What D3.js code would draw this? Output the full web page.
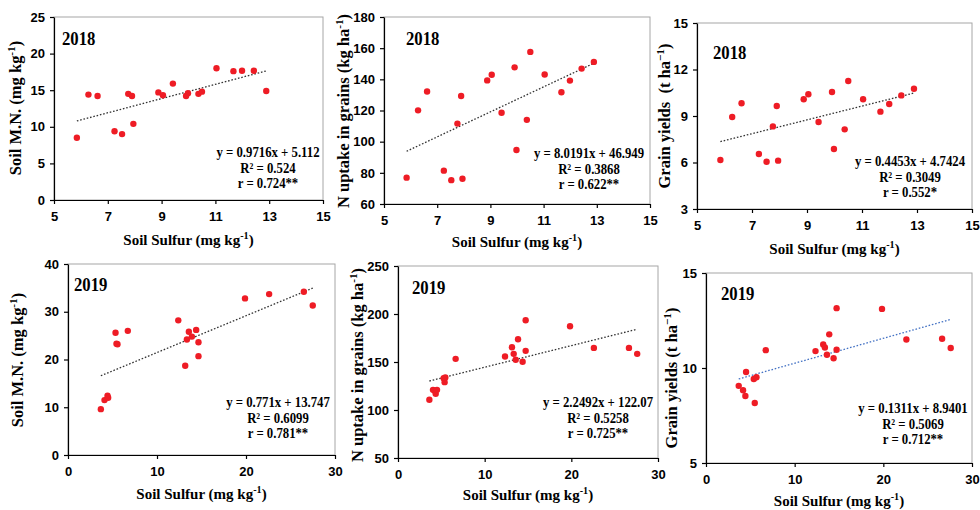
<!DOCTYPE html>
<html>
<head>
<meta charset="utf-8">
<script src="https://cdn.jsdelivr.net/npm/d3@7"></script>
<style>
  body { margin: 0; background: #fff; }
  svg { font-family: "Liberation Serif", "Times New Roman", serif; font-weight: bold; }
  .tick text { font-size: 13px; fill: #000; }
</style>
</head>
<body>
<svg id="chart" width="980" height="510"></svg>
<script>
// 2018 data (same soil sulfur values for the three panels)
const sulfur2018 = [5.85, 6.28, 6.62, 7.25, 7.53, 7.76, 7.9, 7.95, 8.88, 9.05, 9.42, 9.91, 9.98, 10.37, 10.5, 11.04, 11.67, 11.99, 12.43, 12.89];
const mn2018 = [8.5, 14.4, 14.2, 9.4, 9.0, 14.5, 14.2, 10.4, 14.7, 14.3, 15.9, 14.2, 14.6, 14.5, 14.8, 18.0, 17.6, 17.65, 17.65, 14.9];
const uptake2018 = [76.9, 120.1, 132.2, 81.4, 75.3, 111.6, 129.3, 76.2, 139.3, 142.9, 118.6, 147.7, 94.7, 114.0, 157.6, 143.1, 131.7, 139.2, 146.9, 151.2];
const yield2018 = [6.16, 8.94, 9.82, 6.55, 6.05, 8.33, 9.65, 6.12, 10.08, 10.4, 8.61, 10.55, 6.87, 8.14, 11.26, 10.08, 9.28, 9.77, 10.33, 10.76];

// 2019 data
const sulfurMn2019 = [3.69, 4.1, 4.44, 4.51, 5.34, 5.45, 5.56, 6.72, 12.39, 13.17, 13.36, 13.58, 13.92, 14.4, 14.66, 14.66, 19.89, 22.6, 26.5, 27.5];
const mn2019 = [9.6, 11.5, 12.4, 12.0, 25.6, 23.3, 23.2, 26.0, 28.2, 18.7, 24.2, 25.8, 24.8, 26.2, 23.6, 20.7, 32.8, 33.7, 34.2, 31.3];
const sulfurUp2019 = [3.62, 4.04, 4.23, 4.35, 4.5, 5.27, 5.38, 5.46, 6.65, 12.35, 13.15, 13.35, 13.58, 13.85, 14.38, 14.73, 14.73, 19.85, 22.6, 26.65, 27.6];
const uptake2019 = [110.7, 121, 120, 116.9, 121, 133.2, 129, 133.9, 153.3, 155.7, 165.4, 158.5, 152.3, 173.7, 150.2, 193.5, 161.6, 187.3, 164.7, 164.7, 158.5];
const sulfurGy2019 = [3.69, 4.18, 4.44, 4.52, 5.39, 5.5, 5.69, 6.74, 12.35, 13.22, 13.41, 13.64, 13.9, 14.39, 14.73, 14.73, 19.85, 22.6, 26.63, 27.6];
const yield2019 = [9.06, 8.83, 8.53, 9.79, 9.42, 8.16, 9.51, 10.94, 10.89, 11.24, 11.08, 10.7, 11.77, 10.51, 13.15, 10.96, 13.11, 11.5, 11.54, 11.05];

// ticks
const ticks2018X = [5, 7, 9, 11, 13, 15];
const ticks2019X = [0, 10, 20, 30];
const ticksMn2018 = [0, 5, 10, 15, 20, 25];
const ticksUp2018 = [60, 80, 100, 120, 140, 160, 180];
const ticksGy2018 = [3, 6, 9, 12, 15];
const ticksMn2019 = [0, 10, 20, 30, 40];
const ticksUp2019 = [50, 100, 150, 200, 250];
const ticksGy2019 = [5, 10, 15];

// fits and labels
const fits = [[0.9716, 5.112], [8.0191, 46.949], [0.4453, 4.7424], [0.771, 13.747], [2.2492, 122.07], [0.1311, 8.9401]];
const eqTexts = [
    ['y = 0.9716x + 5.112', 'R² = 0.524', 'r = 0.724**'],
    ['y = 8.0191x + 46.949', 'R² = 0.3868', 'r = 0.622**'],
    ['y = 0.4453x + 4.7424', 'R² = 0.3049', 'r = 0.552*'],
    ['y = 0.771x + 13.747', 'R² = 0.6099', 'r = 0.781**'],
    ['y = 2.2492x + 122.07', 'R² = 0.5258', 'r = 0.725**'],
    ['y = 0.1311x + 8.9401', 'R² = 0.5069', 'r = 0.712**']
];
const yTitles = [
    ['Soil M.N. (mg kg', '-1', ')'],
    ['N uptake in grains (kg ha', '-1', ')'],
    ['Grain yields \u00a0(t ha', '\u22121', ')'],
    ['Soil M.N. (mg kg', '-1', ')'],
    ['N uptake in grains (kg ha', '-1', ')'],
    ['Grain yields (t ha', '\u22121', ')']
];

const panels = [
    {x: sulfur2018, y: mn2018, box: [54, 323, 17, 200], xDom: [5, 15], xTicks: ticks2018X, yDom: [0, 25], yTicks: ticksMn2018,
     year: '2018', yearPos: [62, 45], eqPos: [268, 157], yTitlePos: [21, 108], xTitleY: 245, trend: '#333'},
    {x: sulfur2018, y: uptake2018, box: [384, 650, 17, 204], xDom: [5, 15], xTicks: ticks2018X, yDom: [60, 180], yTicks: ticksUp2018,
     year: '2018', yearPos: [406, 45], eqPos: [589, 158], yTitlePos: [349, 111], xTitleY: 247, trend: '#333'},
    {x: sulfur2018, y: yield2018, box: [697, 972, 23, 209], xDom: [5, 15], xTicks: ticks2018X, yDom: [3, 15], yTicks: ticksGy2018,
     year: '2018', yearPos: [713, 59], eqPos: [910, 166], yTitlePos: [670, 116], xTitleY: 254, trend: '#333'},
    {x: sulfurMn2019, y: mn2019, box: [68, 335, 264, 455], xDom: [0, 30], xTicks: ticks2019X, yDom: [0, 40], yTicks: ticksMn2019,
     year: '2019', yearPos: [74, 291], eqPos: [278, 407], yTitlePos: [23, 360], xTitleY: 499, trend: '#333'},
    {x: sulfurUp2019, y: uptake2019, box: [398, 658, 266, 458], xDom: [0, 30], xTicks: ticks2019X, yDom: [50, 250], yTicks: ticksUp2019,
     year: '2019', yearPos: [412, 294], eqPos: [598, 407], yTitlePos: [363, 365], xTitleY: 500, trend: '#333'},
    {x: sulfurGy2019, y: yield2019, box: [706, 972, 273, 463], xDom: [0, 30], xTicks: ticks2019X, yDom: [5, 15], yTicks: ticksGy2019,
     year: '2019', yearPos: [721, 300], eqPos: [913, 413], yTitlePos: [677, 378], xTitleY: 506, trend: '#4472c4'}
];

const svg = d3.select('#chart');

function addTitle(g, parts, size) {
    g.append('tspan').text(parts[0]);
    g.append('tspan').text(parts[1]).attr('dy', -size * 0.38).style('font-size', (size * 0.68) + 'px');
    g.append('tspan').text(parts[2]).attr('dy', size * 0.38);
}

panels.forEach((p, i) => {
    const [x0, x1, y0, y1] = p.box;
    const xScale = d3.scaleLinear().domain(p.xDom).range([x0, x1]);
    const yScale = d3.scaleLinear().domain(p.yDom).range([y1, y0]);
    const g = svg.append('g').classed('panel', true);

    // light frame
    g.append('rect')
        .attr('x', x0).attr('y', y0)
        .attr('width', x1 - x0).attr('height', y1 - y0)
        .attr('fill', 'none')
        .attr('stroke', '#a6a6a6')
        .attr('stroke-width', 1);

    g.append('g')
        .attr('transform', `translate(0,${y1})`)
        .call(d3.axisBottom(xScale).tickValues(p.xTicks).tickSize(4).tickSizeOuter(0).tickPadding(8))
        .call(a => a.selectAll('path, line').attr('stroke', '#000').attr('stroke-width', 1.2))
        .call(a => a.selectAll('text').attr('font-family', null).attr('font-size', null));

    g.append('g')
        .attr('transform', `translate(${x0},0)`)
        .call(d3.axisLeft(yScale).tickValues(p.yTicks).tickSize(4).tickSizeOuter(0).tickPadding(5))
        .call(a => a.selectAll('path, line').attr('stroke', '#000').attr('stroke-width', 1.2))
        .call(a => a.selectAll('text').attr('font-family', null).attr('font-size', null));

    // trend line
    const [m, b] = fits[i];
    const ext = d3.extent(p.x);
    g.append('line')
        .attr('x1', xScale(ext[0])).attr('y1', yScale(m * ext[0] + b))
        .attr('x2', xScale(ext[1])).attr('y2', yScale(m * ext[1] + b))
        .attr('stroke', p.trend)
        .attr('stroke-width', 1.3)
        .attr('stroke-dasharray', '1.6,1.8');

    g.selectAll('.dot')
        .data(p.x.map((v, k) => ({sx: v, val: p.y[k]})))
        .enter()
        .append('circle')
            .classed('dot', true)
            .attr('cx', d => xScale(d.sx))
            .attr('cy', d => yScale(d.val))
            .attr('r', 3.2)
            .attr('fill', '#ee1c25');

    // year label
    g.append('text')
        .attr('transform', `translate(${p.yearPos[0]},${p.yearPos[1]}) scale(0.88,1)`)
        .style('font-size', '19px')
        .text(p.year);

    // equation block
    eqTexts[i].forEach((t, k) => {
        g.append('text')
            .attr('transform', `translate(${p.eqPos[0]},${p.eqPos[1] + k * 15.5}) scale(0.88,1)`)
            .attr('text-anchor', 'middle')
            .style('font-size', '14.5px')
            .text(t);
    });

    // axis titles
    const xt = g.append('text')
        .attr('x', (x0 + x1) / 2)
        .attr('y', p.xTitleY)
        .attr('text-anchor', 'middle')
        .style('font-size', '15px');
    addTitle(xt, ['Soil Sulfur (mg kg', '-1', ')'], 15);

    const yt = g.append('text')
        .attr('transform', `translate(${p.yTitlePos[0]},${p.yTitlePos[1]}) rotate(-90)`)
        .attr('text-anchor', 'middle')
        .style('font-size', '16.5px');
    addTitle(yt, yTitles[i], 16.5);
});
</script>
</body>
</html>
